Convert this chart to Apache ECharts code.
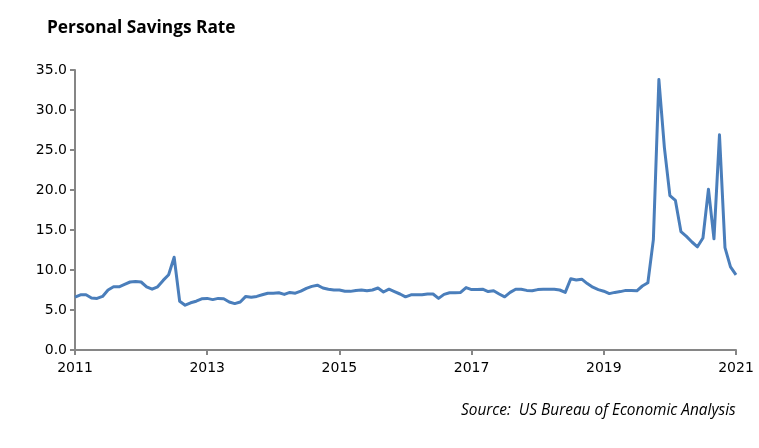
<!DOCTYPE html>
<html>
<head>
<meta charset="utf-8">
<script src="https://cdn.jsdelivr.net/npm/echarts@6/dist/echarts.min.js"></script>
<style>
html,body{margin:0;padding:0;background:#fff;}
#chart{width:759px;height:448px;}
</style>
</head>
<body>
<div id="chart"></div>
<script>
// Monthly personal savings rate (%), first point labelled 2011, last labelled 2021
var tickLabels = ['2011', '2013', '2015', '2017', '2019', '2021'];
var savingsRate = [
  6.6, 6.9, 6.9, 6.5, 6.45, 6.7, 7.5, 7.9, 7.9, 8.2, 8.5, 8.55, 8.5, 7.9, 7.6, 7.9, 8.7, 9.4, 11.6, 6.1, 5.6, 5.9, 6.1, 6.4,
  6.45, 6.3, 6.45, 6.4, 6.0, 5.8, 6.0, 6.7, 6.6, 6.7, 6.9, 7.1, 7.1, 7.15, 6.95, 7.2, 7.1, 7.35, 7.7, 7.95, 8.1, 7.75, 7.6, 7.5,
  7.5, 7.35, 7.33, 7.45, 7.5, 7.4, 7.5, 7.75, 7.25, 7.6, 7.3, 7.0, 6.65, 6.9, 6.9, 6.9, 7.0, 7.0, 6.45, 6.95, 7.15, 7.15, 7.2, 7.8,
  7.55, 7.55, 7.6, 7.3, 7.4, 7.0, 6.65, 7.2, 7.6, 7.6, 7.45, 7.4, 7.55, 7.6, 7.6, 7.6, 7.5, 7.2, 8.9, 8.75, 8.85, 8.3, 7.85, 7.55,
  7.35, 7.05, 7.2, 7.3, 7.45, 7.45, 7.4, 8.0, 8.4, 13.8, 33.8, 25.3, 19.3, 18.7, 14.8, 14.2, 13.5, 12.9, 14.0, 20.1, 13.9, 26.9, 12.8, 10.4, 9.4
];
var monthsPerLabel = 24;
var categories = savingsRate.map(function (v, i) { return 'm' + i; });

var chart = echarts.init(document.getElementById('chart'), null, {renderer: 'canvas'});
var axisColor = '#868686';
chart.setOption({
  animation: false,
  backgroundColor: '#ffffff',
  title: [
    {
      text: 'Personal Savings Rate',
      left: 42, top: 15,
      textStyle: {fontFamily: 'Open Sans', fontWeight: 'bold', fontSize: 17.3, color: '#000'}
    },
    {
      text: 'Source:  US Bureau of Economic Analysis',
      left: 456, top: 398,
      textStyle: {fontFamily: 'Open Sans', fontStyle: 'italic', fontWeight: 'normal', fontSize: 15.4, color: '#000'}
    }
  ],
  grid: {left: 75, right: 23, top: 70, bottom: 98, containLabel: false},
  xAxis: {
    type: 'category',
    data: categories,
    boundaryGap: false,
    axisLine: {lineStyle: {color: axisColor, width: 2}},
    axisTick: {
      show: true, length: 5,
      interval: function (i) { return i % monthsPerLabel === 0; },
      lineStyle: {color: axisColor, width: 2}
    },
    axisLabel: {
      interval: function (i) { return i % monthsPerLabel === 0; },
      formatter: function (v, i) { return tickLabels[Math.round(i / monthsPerLabel)]; },
      fontFamily: 'DejaVu Sans', fontSize: 14, color: '#000', margin: 11
    },
    splitLine: {show: false}
  },
  yAxis: {
    type: 'value',
    min: 0, max: 35, interval: 5,
    axisLine: {show: true, lineStyle: {color: axisColor, width: 2}},
    axisTick: {show: true, length: 5, lineStyle: {color: axisColor, width: 2}},
    axisLabel: {
      formatter: function (v) { return v.toFixed(1); },
      fontFamily: 'DejaVu Sans', fontSize: 14, color: '#000', margin: 8
    },
    splitLine: {show: false}
  },
  series: [{
    type: 'line',
    data: savingsRate,
    showSymbol: false,
    symbol: 'none',
    lineStyle: {color: '#4A7EBB', width: 3, join: 'round'},
    itemStyle: {color: '#4A7EBB'}
  }]
});
</script>
</body>
</html>
